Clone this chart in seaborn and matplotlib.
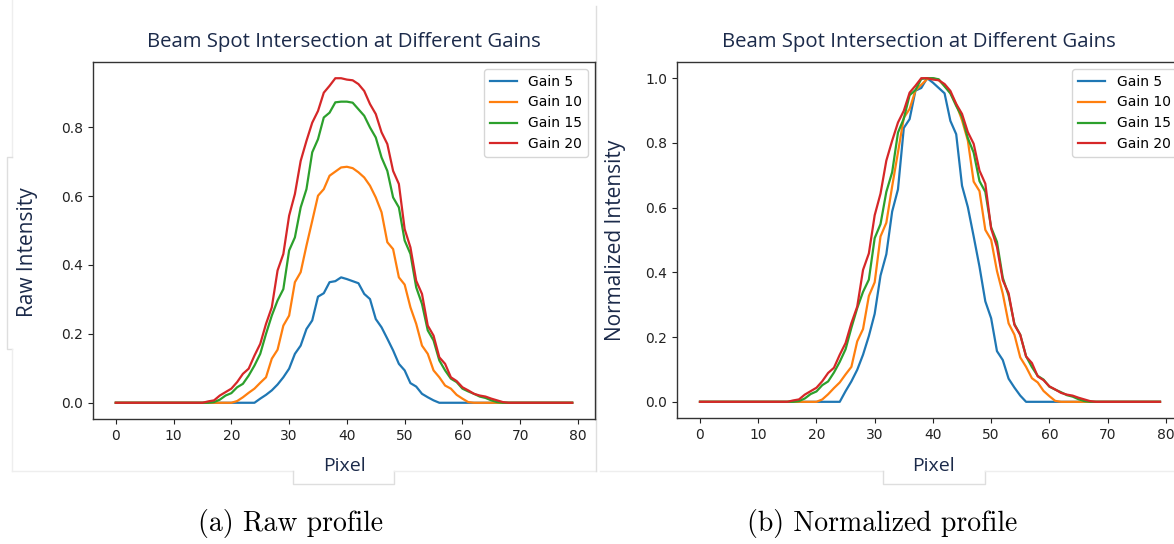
import numpy as np
import pandas as pd
import matplotlib
matplotlib.use("Agg")
import matplotlib.pyplot as plt
import seaborn as sns

# ---------------- data ----------------
pixels = list(range(80))
gain_labels = ["Gain 5", "Gain 10", "Gain 15", "Gain 20"]

gain5 = [0, 0, 0, 0, 0, 0, 0, 0, 0, 0, 0, 0, 0, 0, 0, 0, 0, 0, 0, 0,
         0, 0, 0, 0, 0, 0.012, 0.023, 0.036, 0.053, 0.074,
         0.099, 0.142, 0.166, 0.214, 0.239, 0.308, 0.318, 0.350, 0.353, 0.364,
         0.359, 0.353, 0.347, 0.316, 0.301, 0.243, 0.219, 0.186, 0.152, 0.113,
         0.094, 0.057, 0.047, 0.026, 0.016, 0.007, 0, 0, 0, 0,
         0, 0, 0, 0, 0, 0, 0, 0, 0, 0,
         0, 0, 0, 0, 0, 0, 0, 0, 0, 0]

gain10 = [0, 0, 0, 0, 0, 0, 0, 0, 0, 0, 0, 0, 0, 0, 0, 0, 0, 0, 0, 0,
          0, 0.005, 0.016, 0.029, 0.041, 0.058, 0.074, 0.128, 0.154, 0.224,
          0.253, 0.350, 0.379, 0.456, 0.528, 0.601, 0.620, 0.659, 0.671, 0.683,
          0.685, 0.681, 0.669, 0.654, 0.630, 0.596, 0.553, 0.466, 0.446, 0.364,
          0.343, 0.277, 0.229, 0.166, 0.142, 0.094, 0.074, 0.050, 0.041, 0.023,
          0.012, 0.002, 0, 0, 0, 0, 0, 0, 0, 0,
          0, 0, 0, 0, 0, 0, 0, 0, 0, 0]

gain15 = [0, 0, 0, 0, 0, 0, 0, 0, 0, 0, 0, 0, 0, 0, 0, 0, 0,
          0.002, 0.009, 0.021, 0.028, 0.045, 0.055, 0.079, 0.108, 0.142, 0.200,
          0.253, 0.297, 0.330, 0.442, 0.480, 0.567, 0.620, 0.727, 0.765, 0.828,
          0.842, 0.872, 0.874, 0.874, 0.871, 0.852, 0.833, 0.799, 0.770, 0.712,
          0.673, 0.596, 0.567, 0.471, 0.432, 0.335, 0.287, 0.210, 0.181, 0.123,
          0.094, 0.070, 0.060, 0.041, 0.033, 0.026, 0.018, 0.014, 0.007, 0.002,
          0, 0, 0, 0, 0, 0, 0, 0, 0, 0, 0, 0, 0]

gain20 = [0, 0, 0, 0, 0, 0, 0, 0, 0, 0, 0, 0, 0, 0, 0, 0,
          0.004, 0.007, 0.021, 0.031, 0.041, 0.060, 0.084, 0.099, 0.137, 0.171,
          0.229, 0.277, 0.384, 0.432, 0.543, 0.606, 0.702, 0.760, 0.813, 0.847,
          0.900, 0.920, 0.942, 0.942, 0.938, 0.936, 0.925, 0.905, 0.867, 0.838,
          0.785, 0.751, 0.673, 0.635, 0.504, 0.451, 0.354, 0.316, 0.224, 0.195,
          0.132, 0.113, 0.074, 0.063, 0.045, 0.036, 0.026, 0.021, 0.018, 0.012,
          0.007, 0.002, 0, 0, 0, 0, 0, 0, 0, 0, 0, 0, 0, 0]

x_ticks = [0, 10, 20, 30, 40, 50, 60, 70, 80]
title_text = "Beam Spot Intersection at Different Gains"
captions = ["(a) Raw profile", "(b) Normalized profile"]
ylabels = ["Raw Intensity", "Normalized Intensity"]
xlabel = "Pixel"

# ---------------- build long tables ----------------
series = [gain5, gain10, gain15, gain20]
rows = []
for lab, vals in zip(gain_labels, series):
    vmax = max(vals)
    for p, v in zip(pixels, vals):
        rows.append({"Pixel": p, "Gain": lab, "raw": v, "norm": v / vmax})
df = pd.DataFrame(rows)

palette = dict(zip(gain_labels, sns.color_palette("tab10", 4)))

W, H = 1174, 544
fig = plt.figure(figsize=(W / 100, H / 100), dpi=100)

navy = "#1b2a4a"
ui_font = ["Open Sans", "DejaVu Sans"]

# background overlay for faint screenshot frame lines
bg = fig.add_axes([0, 0, 1, 1], zorder=0)
bg.set_xlim(0, W)
bg.set_ylim(H, 0)
bg.axis("off")
fc = "#eeeeee"
fc2 = "#dedede"
# left panel frame
bg.plot([12, 12], [0, 157], color=fc, lw=1)
bg.plot([12, 7, 7, 12], [157, 157, 349, 349], color=fc2, lw=1)
bg.plot([12, 12], [349, 471], color=fc, lw=1)
bg.plot([12, 293], [471, 471], color=fc, lw=1)
bg.plot([293, 293, 394, 394], [471, 484, 484, 471], color=fc2, lw=1)
bg.plot([394, 596], [471, 471], color=fc, lw=1)
bg.plot([596, 596], [6, 471], color=fc2, lw=1)
# right panel frame
bg.plot([600, 883], [471, 471], color=fc, lw=1)
bg.plot([883, 883, 985, 985], [471, 484, 484, 471], color=fc2, lw=1)
bg.plot([985, 1174], [471, 471], color=fc, lw=1)

def px_rect(l, t, r, b):
    return [l / W, 1 - b / H, (r - l) / W, (b - t) / H]

ax1 = fig.add_axes(px_rect(93, 62, 595, 419), zorder=2)
ax2 = fig.add_axes(px_rect(677, 62, 1183, 418), zorder=2)

panels = [
    (ax1, "raw", ylabels[0], captions[0], 290, 27, 344, 344, 252),
    (ax2, "norm", ylabels[1], captions[1], 882, 615, 919, 933, 240),
]
for ax, col, ylab, cap, cx, ylx, tx, pxx, yly in panels:
    sns.lineplot(data=df, x="Pixel", y=col, hue="Gain", palette=palette,
                 hue_order=gain_labels, ax=ax, linewidth=1.6, legend=True)
    ax.set_xticks(x_ticks)
    ax.tick_params(labelsize=10, colors="#222222", length=3.5)
    for s in ax.spines.values():
        s.set_color("#333333")
        s.set_linewidth(1.0)
    ax.set_xlabel("")
    ax.set_ylabel("")
    ax.legend(loc="upper right", fontsize=10, title=None, framealpha=0.8,
              edgecolor="#cccccc")
    fig.text(tx / W, 1 - 42 / H, title_text,
             ha="center", va="center", fontsize=14.7, color=navy, family=ui_font)
    fig.text(pxx / W, 1 - 466 / H, xlabel,
             ha="center", va="center", fontsize=14, color=navy, family=ui_font)
    fig.text(ylx / W, 1 - yly / H, ylab, rotation=90,
             ha="center", va="center", fontsize=15, color=navy, family=ui_font)
    fig.text(cx / W, 1 - 524 / H, cap, ha="center", va="center",
             fontsize=20, color="black", family=["cmr10", "DejaVu Serif"])

fig.savefig("out.png", dpi=100)
